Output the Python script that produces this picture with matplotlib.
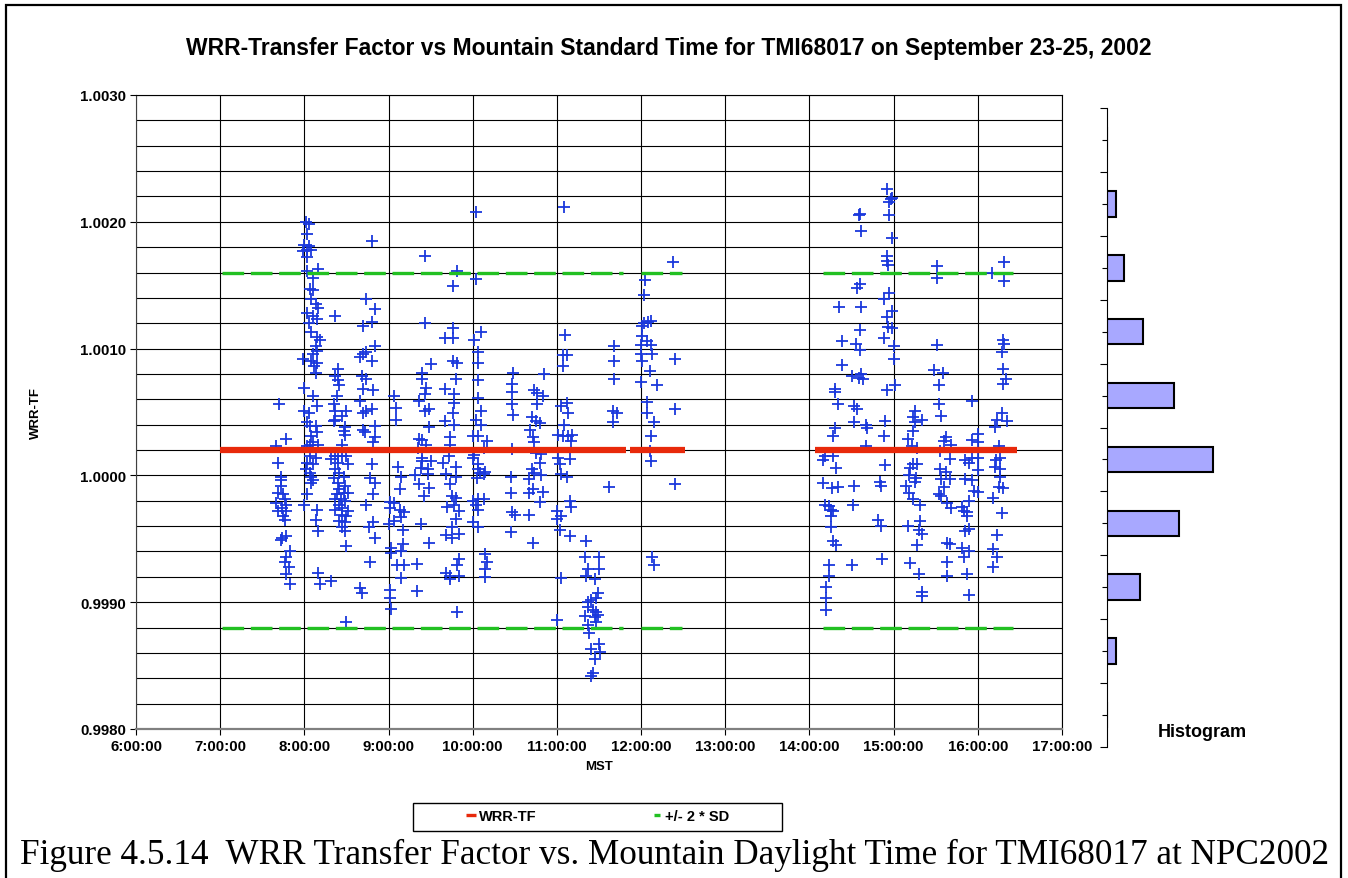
import matplotlib
matplotlib.use("Agg")
import matplotlib.pyplot as plt
from matplotlib.lines import Line2D
from matplotlib.patches import Rectangle
from matplotlib.ticker import MultipleLocator, FixedLocator, FuncFormatter

plt.rcParams["font.family"] = ["Liberation Sans", "DejaVu Sans"]

# ---- data --------------------------------------------------------------
am_times = [
    # 7:40 - 7:50
    "7:42", "7:47", "7:40", "7:41", "7:43", "7:43", "7:43", "7:41", "7:45", "7:46",
    "7:40", "7:47", "7:44", "7:41", "7:47", "7:45", "7:46", "7:44", "7:47", "7:43",
    "7:50", "7:47", "7:46", "7:49", "7:47", "7:50",
    # 8:00 - 8:10
    "8:01", "8:03", "8:02", "8:00", "8:03", "8:02", "8:05", "7:59", "8:02", "8:10",
    "8:02", "8:06", "8:04", "8:06", "8:05", "8:08", "8:10", "8:02", "8:06", "8:09",
    "8:03", "8:05", "8:09", "8:11", "8:08", "8:09", "8:06", "7:59", "8:05", "8:09",
    "8:07", "8:08", "8:00", "8:06", "8:09", "8:00", "8:03", "8:02", "8:04", "8:08",
    "8:09", "8:05", "8:06", "8:04", "8:10", "8:02", "8:04", "8:08", "8:02", "8:06",
    "8:01", "8:04", "8:05", "8:06", "8:05", "8:02", "8:00", "8:09", "8:08", "8:10",
    "8:10", "8:11", "8:19",
    # 8:20 - 8:31
    "8:22", "8:24", "8:22", "8:24", "8:25", "8:23", "8:21", "8:30", "8:22", "8:27",
    "8:22", "8:21", "8:29", "8:28", "8:29", "8:27", "8:22", "8:24", "8:27", "8:30",
    "8:19", "8:24", "8:31", "8:22", "8:25", "8:28", "8:21", "8:24", "8:29", "8:25",
    "8:23", "8:28", "8:31", "8:22", "8:26", "8:29", "8:25", "8:27", "8:22", "8:31",
    "8:27", "8:30", "8:25", "8:29", "8:27", "8:29", "8:30", "8:30",
    # 8:40 - 8:50
    "8:48", "8:44", "8:50", "8:42", "8:48", "8:50", "8:42", "8:44", "8:48", "8:40",
    "8:41", "8:44", "8:42", "8:49", "8:40", "8:42", "8:44", "8:48", "8:50", "8:42",
    "8:43", "8:50", "8:49", "8:48", "8:47", "8:50", "8:49", "8:44", "8:46", "8:49",
    "8:50", "8:47", "8:40", "8:41",
    # 9:00 - 10:30
    "10:02", "9:26", "9:49", "9:46", "10:02", "9:26", "9:46", "9:40", "9:46", "10:01",
    "10:06", "10:04", "10:04", "9:30", "9:46", "9:49", "9:24", "9:24", "9:48", "10:04",
    "10:29", "9:27", "9:26", "9:40", "9:47", "10:28", "10:28", "9:04", "9:22", "9:47",
    "10:04", "10:28", "9:26", "9:29", "9:05", "9:46", "10:06", "10:29", "9:05", "9:40",
    "9:47", "10:02", "10:06", "9:29", "9:22", "9:24", "9:44", "10:00", "10:04", "10:10",
    "9:27", "9:21", "9:44", "10:08", "10:28", "10:01", "9:24", "9:43", "10:00", "9:30",
    "9:39", "9:24", "9:07", "10:04", "9:23", "9:28", "9:48", "10:04", "10:09", "9:09",
    "9:19", "9:28", "9:41", "9:48", "10:03", "10:08", "10:05", "10:27", "9:22", "9:44",
    "9:08", "9:29", "9:25", "10:27", "9:45", "9:48", "9:01", "9:04", "10:00", "10:04",
    "10:08", "10:02", "9:42", "9:47", "9:01", "9:08", "9:11", "9:50", "10:04", "10:28",
    "10:30", "9:09", "9:48", "9:04", "9:00", "10:00", "9:23", "9:10", "9:45", "10:04",
    "9:41", "9:45", "9:50", "10:27", "9:29", "9:10", "9:02", "9:09", "9:02", "10:09",
    "9:50", "10:10", "9:06", "9:11", "9:20", "9:49", "10:09", "9:41", "9:44", "9:50",
    "9:09", "10:09", "9:44", "9:01", "9:20", "9:01", "9:02", "9:49",
    # 10:40 - 12:25
    "11:05", "12:23", "12:03", "12:02", "12:02", "12:05", "12:07", "12:01", "11:06", "11:41",
    "12:01", "12:04", "12:07", "12:00", "12:00", "12:08", "11:04", "11:07", "12:24", "11:41",
    "12:01", "11:04", "12:06", "10:51", "12:00", "11:41", "12:11", "10:44", "10:46", "10:50",
    "10:46", "11:07", "11:03", "11:08", "12:04", "12:24", "11:40", "11:43", "12:04", "11:40",
    "10:42", "10:45", "10:48", "12:09", "11:05", "10:41", "11:01", "11:04", "11:08", "11:11",
    "11:10", "12:07", "10:43", "10:44", "12:06", "10:49", "10:45", "11:01", "11:09", "12:07",
    "11:02", "10:48", "10:42", "10:44", "10:49", "11:03", "11:07", "10:40", "12:24", "11:37",
    "10:43", "10:50", "10:40", "10:48", "11:09", "11:10", "10:40", "11:00", "11:03", "11:00",
    "11:02", "11:09", "10:43", "11:21", "12:08", "12:09", "11:20", "11:30", "11:22", "11:30",
    "11:21", "11:03", "11:27", "11:29", "11:28", "11:22", "11:24", "11:22", "11:26", "11:28",
    "11:20", "11:27", "11:29", "11:00", "11:22", "11:28", "11:23", "11:30", "11:24", "11:31",
    "11:27", "11:26", "11:24",
]
am_tf = [
    # 7:40 - 7:50
    1.00056, 1.00029, 1.00023, 1.00010, 0.99999, 0.99996, 0.99992, 0.99986, 0.99985, 0.99981,
    0.99978, 0.99977, 0.99974, 0.99972, 0.99972, 0.99968, 0.99965, 0.99951, 0.99952, 0.99949,
    0.99940, 0.99936, 0.99932, 0.99928, 0.99922, 0.99914,
    # 8:00 - 8:10
    1.00200, 1.00198, 1.00190, 1.00182, 1.00181, 1.00178, 1.00178, 1.00177, 1.00172, 1.00163,
    1.00161, 1.00156, 1.00147, 1.00146, 1.00139, 1.00135, 1.00132, 1.00128, 1.00126, 1.00123,
    1.00120, 1.00113, 1.00109, 1.00107, 1.00102, 1.00098, 1.00096, 1.00092, 1.00090, 1.00089,
    1.00086, 1.00081, 1.00069, 1.00063, 1.00055, 1.00051, 1.00049, 1.00042, 1.00039, 1.00039,
    1.00034, 1.00031, 1.00026, 1.00024, 1.00024, 1.00023, 1.00015, 1.00014, 1.00010, 1.00009,
    1.00005, 1.00002, 0.99999, 0.99996, 0.99994, 0.99985, 0.99977, 0.99973, 0.99965, 0.99956,
    0.99923, 0.99914, 0.99917,
    # 8:20 - 8:31
    1.00126, 1.00084, 1.00078, 1.00075, 1.00071, 1.00063, 1.00056, 1.00051, 1.00051, 1.00047,
    1.00044, 1.00043, 1.00038, 1.00035, 1.00032, 1.00024, 1.00015, 1.00015, 1.00015, 1.00015,
    1.00013, 1.00010, 1.00009, 1.00005, 1.00002, 0.99999, 0.99998, 0.99994, 0.99992, 0.99989,
    0.99985, 0.99986, 0.99986, 0.99981, 0.99981, 0.99980, 0.99977, 0.99974, 0.99973, 0.99972,
    0.99969, 0.99968, 0.99964, 0.99963, 0.99959, 0.99956, 0.99944, 0.99884,
    # 8:40 - 8:50
    1.00185, 1.00139, 1.00131, 1.00118, 1.00121, 1.00102, 1.00096, 1.00097, 1.00090, 1.00093,
    1.00078, 1.00076, 1.00068, 1.00067, 1.00059, 1.00049, 1.00051, 1.00052, 1.00039, 1.00036,
    1.00034, 1.00030, 1.00026, 1.00009, 0.99998, 0.99994, 0.99985, 0.99977, 0.99959, 0.99963,
    0.99951, 0.99932, 0.99911, 0.99907,
    # 9:00 - 10:30
    1.00208, 1.00173, 1.00161, 1.00149, 1.00155, 1.00120, 1.00116, 1.00108, 1.00108, 1.00107,
    1.00113, 1.00097, 1.00089, 1.00088, 1.00090, 1.00089, 1.00081, 1.00076, 1.00076, 1.00075,
    1.00081, 1.00069, 1.00064, 1.00068, 1.00064, 1.00072, 1.00066, 1.00063, 1.00059, 1.00057,
    1.00061, 1.00056, 1.00051, 1.00052, 1.00053, 1.00049, 1.00051, 1.00048, 1.00044, 1.00043,
    1.00040, 1.00044, 1.00040, 1.00038, 1.00029, 1.00028, 1.00030, 1.00031, 1.00031, 1.00027,
    1.00024, 1.00022, 1.00024, 1.00022, 1.00021, 1.00016, 1.00014, 1.00015, 1.00014, 1.00011,
    1.00010, 1.00011, 1.00007, 1.00009, 1.00006, 1.00005, 1.00007, 1.00005, 1.00003, 0.99999,
    1.00000, 1.00001, 1.00001, 0.99999, 0.99998, 1.00001, 1.00002, 0.99999, 0.99993, 0.99993,
    0.99989, 0.99990, 0.99984, 0.99986, 0.99984, 0.99982, 0.99979, 0.99978, 0.99980, 0.99981,
    0.99981, 0.99977, 0.99975, 0.99977, 0.99974, 0.99973, 0.99971, 0.99972, 0.99973, 0.99971,
    0.99969, 0.99967, 0.99966, 0.99964, 0.99962, 0.99963, 0.99962, 0.99957, 0.99959, 0.99959,
    0.99953, 0.99951, 0.99954, 0.99955, 0.99947, 0.99946, 0.99943, 0.99940, 0.99939, 0.99938,
    0.99934, 0.99932, 0.99929, 0.99929, 0.99930, 0.99929, 0.99926, 0.99923, 0.99921, 0.99921,
    0.99919, 0.99920, 0.99918, 0.99910, 0.99909, 0.99903, 0.99895, 0.99892,
    # 10:40 - 12:25
    1.00212, 1.00168, 1.00154, 1.00142, 1.00120, 1.00121, 1.00122, 1.00118, 1.00111, 1.00102,
    1.00110, 1.00106, 1.00103, 1.00103, 1.00096, 1.00096, 1.00095, 1.00095, 1.00092, 1.00090,
    1.00090, 1.00086, 1.00082, 1.00080, 1.00074, 1.00076, 1.00071, 1.00067, 1.00065, 1.00063,
    1.00056, 1.00057, 1.00055, 1.00049, 1.00058, 1.00052, 1.00051, 1.00049, 1.00049, 1.00042,
    1.00046, 1.00043, 1.00041, 1.00042, 1.00040, 1.00036, 1.00032, 1.00031, 1.00031, 1.00032,
    1.00027, 1.00031, 1.00030, 1.00026, 1.00019, 1.00017, 1.00018, 1.00014, 1.00013, 1.00011,
    1.00009, 1.00010, 1.00005, 1.00002, 1.00000, 1.00001, 0.99999, 0.99997, 0.99993, 0.99991,
    0.99989, 0.99987, 0.99986, 0.99979, 0.99980, 0.99975, 0.99969, 0.99972, 0.99968, 0.99966,
    0.99957, 0.99952, 0.99947, 0.99948, 0.99936, 0.99929, 0.99936, 0.99936, 0.99926, 0.99926,
    0.99921, 0.99919, 0.99918, 0.99907, 0.99903, 0.99900, 0.99902, 0.99896, 0.99894, 0.99892,
    0.99889, 0.99888, 0.99890, 0.99886, 0.99882, 0.99884, 0.99876, 0.99867, 0.99863, 0.99861,
    0.99855, 0.99844, 0.99842,
]

pm_times = [
    # 14:10 - 15:30
    "14:55", "14:59", "14:57", "14:58", "14:36", "14:35", "14:57", "14:37", "14:59", "14:55",
    "14:55", "14:56", "15:31", "15:31", "14:36", "14:34", "14:57", "14:53", "14:21", "14:37",
    "14:59", "14:55", "14:56", "14:59", "14:36", "14:23", "14:53", "14:33", "14:36", "15:00",
    "15:31", "15:00", "14:23", "14:30", "14:35", "14:37", "14:38", "15:29", "15:32", "15:01",
    "14:55", "14:18", "14:18", "14:20", "14:32", "14:34", "15:32", "15:15", "15:20", "15:14",
    "14:32", "14:40", "14:41", "14:54", "15:15", "14:18", "14:17", "14:53", "15:14", "15:10",
    "14:40", "15:13", "15:17", "14:11", "14:17", "14:10", "14:54", "14:19", "15:14", "15:17",
    "15:12", "15:11", "15:16", "15:15", "14:10", "14:16", "14:20", "14:32", "14:50", "14:51",
    "15:09", "15:11", "14:11", "14:14", "14:31", "15:14", "15:19", "14:15", "14:17", "14:15",
    "14:49", "14:51", "15:10", "15:19", "15:18", "15:20", "14:15", "14:17", "14:19", "15:17",
    "14:52", "14:14", "14:30", "15:12", "14:14", "15:18", "14:12", "15:20", "15:20", "14:12",
    "14:12",
    # 15:30 - 16:25
    "16:19", "16:10", "16:19", "16:18", "16:19", "16:17", "16:18", "16:20", "16:18", "15:35",
    "15:56", "15:34", "16:17", "16:14", "16:21", "16:12", "15:37", "16:00", "15:36", "15:56",
    "16:00", "15:41", "16:15", "15:33", "15:40", "15:51", "15:56", "16:00", "16:13", "16:16",
    "15:54", "16:16", "15:33", "15:37", "16:00", "16:12", "15:34", "15:40", "15:51", "15:56",
    "16:16", "16:15", "16:18", "15:36", "15:32", "15:34", "15:57", "16:00", "15:54", "16:11",
    "15:38", "15:41", "15:49", "15:52", "15:50", "16:17", "15:52", "15:54", "15:51", "16:14",
    "15:38", "15:40", "15:49", "15:54", "16:11", "15:50", "16:14", "15:38", "16:11", "15:52",
    "15:38", "15:54",
]
pm_tf = [
    # 14:10 - 15:30
    1.00226, 1.00219, 1.00216, 1.00218, 1.00206, 1.00205, 1.00205, 1.00193, 1.00187, 1.00173,
    1.00169, 1.00166, 1.00165, 1.00156, 1.00151, 1.00148, 1.00144, 1.00139, 1.00133, 1.00133,
    1.00130, 1.00125, 1.00117, 1.00116, 1.00115, 1.00106, 1.00108, 1.00104, 1.00099, 1.00102,
    1.00103, 1.00092, 1.00087, 1.00078, 1.00077, 1.00080, 1.00076, 1.00083, 1.00071, 1.00071,
    1.00067, 1.00066, 1.00068, 1.00056, 1.00055, 1.00052, 1.00056, 1.00051, 1.00044, 1.00046,
    1.00042, 1.00040, 1.00037, 1.00043, 1.00042, 1.00037, 1.00031, 1.00031, 1.00035, 1.00029,
    1.00023, 1.00023, 1.00022, 1.00015, 1.00015, 1.00012, 1.00008, 1.00006, 1.00009, 1.00009,
    1.00006, 1.00000, 0.99998, 0.99995, 0.99994, 0.99990, 0.99991, 0.99992, 0.99995, 0.99992,
    0.99992, 0.99986, 0.99977, 0.99976, 0.99977, 0.99981, 0.99977, 0.99973, 0.99972, 0.99968,
    0.99965, 0.99960, 0.99960, 0.99964, 0.99957, 0.99954, 0.99959, 0.99948, 0.99945, 0.99945,
    0.99934, 0.99929, 0.99929, 0.99931, 0.99921, 0.99922, 0.99912, 0.99908, 0.99905, 0.99903,
    0.99894,
    # 15:30 - 16:25
    1.00168, 1.00160, 1.00153, 1.00107, 1.00104, 1.00097, 1.00084, 1.00076, 1.00072, 1.00081,
    1.00059, 1.00047, 1.00049, 1.00044, 1.00043, 1.00038, 1.00030, 1.00033, 1.00027, 1.00028,
    1.00026, 1.00024, 1.00023, 1.00019, 1.00013, 1.00012, 1.00014, 1.00014, 1.00012, 1.00014,
    1.00010, 1.00005, 1.00005, 1.00003, 1.00004, 1.00007, 0.99997, 0.99997, 0.99997, 0.99996,
    0.99999, 0.99991, 0.99990, 0.99991, 0.99985, 0.99984, 0.99988, 0.99987, 0.99980, 0.99982,
    0.99978, 0.99974, 0.99975, 0.99971, 0.99972, 0.99970, 0.99968, 0.99958, 0.99956, 0.99953,
    0.99947, 0.99946, 0.99943, 0.99940, 0.99942, 0.99936, 0.99936, 0.99932, 0.99928, 0.99922,
    0.99921, 0.99906,
]

mean_tf = 1.0002
sd_upper = 1.0016
sd_lower = 0.9988
mean_runs = [("7:00", "11:49"), ("11:52", "12:31"), ("14:04", "16:28")]
band_runs = [("7:01", "11:47"), ("12:00", "12:29"), ("14:10", "16:25")]

hist_counts = [0, 14, 26, 55, 101, 160, 109, 50, 13, 0]

hour_ticks = list(range(6, 18))
tf_ticks = [0.9980, 0.9990, 1.0000, 1.0010, 1.0020, 1.0030]

title = "WRR-Transfer Factor vs Mountain Standard Time for TMI68017 on September 23-25, 2002"
caption = "Figure 4.5.14  WRR Transfer Factor vs. Mountain Daylight Time for TMI68017 at NPC2002"

RED = "#e8290b"
GREEN = "#22c022"
BLUE = "#1a38dc"


def hours(stamp):
    h, m = stamp.split(":")
    return int(h) + int(m) / 60


W, H = 1348, 879


def box(x0, y0, x1, y1):
    return [x0 / W, 1 - y1 / H, (x1 - x0) / W, (y1 - y0) / H]


fig = plt.figure(figsize=(W / 100, H / 100), dpi=100)

# ---- main scatter panel -------------------------------------------------
ax = fig.add_axes(box(136, 96, 1062, 730))
ax.set_xlim(6, 17)
ax.set_ylim(0.9980, 1.0030)
ax.xaxis.set_major_locator(FixedLocator(hour_ticks))
ax.xaxis.set_major_formatter(FuncFormatter(lambda v, p: f"{int(round(v))}:00:00"))
ax.yaxis.set_major_locator(FixedLocator(tf_ticks))
ax.yaxis.set_minor_locator(MultipleLocator(0.0002))
ax.yaxis.set_major_formatter(FuncFormatter(lambda v, p: f"{v:.4f}"))
ax.grid(True, axis="x", which="major", color="black", lw=0.8)
ax.grid(True, axis="y", which="both", color="black", lw=0.8)
ax.set_axisbelow(True)
ax.tick_params(axis="both", which="major", direction="out", length=4, width=0.8,
               labelsize=10.8, pad=3)
ax.tick_params(axis="y", which="minor", length=0)
for lab in ax.get_xticklabels() + ax.get_yticklabels():
    lab.set_fontweight("bold")
for side in ("top", "right"):
    ax.spines[side].set_color("black")
    ax.spines[side].set_linewidth(0.8)
ax.spines["left"].set_color("#404040")
ax.spines["bottom"].set_color("#808080")
ax.spines["bottom"].set_linewidth(1.6)

ax.plot([hours(t) for t in am_times], am_tf, "+", color=BLUE, ms=8, mew=1.3, zorder=3)
ax.plot([hours(t) for t in pm_times], pm_tf, "+", color=BLUE, ms=8, mew=1.3, zorder=3)

for t0, t1 in mean_runs:
    ax.plot([hours(t0), hours(t1)], [mean_tf, mean_tf], color=RED, lw=4.5,
            solid_capstyle="butt", zorder=4)
for t0, t1 in band_runs:
    for level in (sd_upper, sd_lower):
        ax.plot([hours(t0), hours(t1)], [level, level], color=GREEN, lw=2.4,
                dashes=(6.5, 2.0), dash_capstyle="butt", zorder=4)

ax.set_ylabel("WRR-TF", fontsize=9.5, fontweight="bold", va="center")
ax.yaxis.set_label_coords((36 - 136) / 926, 0.5)
ax.set_xlabel("MST", fontsize=9.5, fontweight="bold", va="center")
ax.xaxis.set_label_coords(0.5, -(767 - 730) / 634)

# ---- histogram panel ----------------------------------------------------
hx = fig.add_axes(box(1107, 109, 1300, 748))
hx.barh(range(len(hist_counts)), hist_counts, height=0.4, color="#a8a8ff",
        edgecolor="black", lw=1.5)
hx.set_ylim(len(hist_counts) - 0.5, -0.5)
hx.set_xlim(0, 291)
hx.yaxis.set_major_locator(FixedLocator([i - 0.5 for i in range(len(hist_counts) + 1)]))
hx.yaxis.set_minor_locator(FixedLocator(range(len(hist_counts))))
hx.tick_params(axis="y", which="major", length=5, width=0.8, labelleft=False)
hx.tick_params(axis="y", which="minor", length=3.5, width=0.8)
hx.set_xticks([])
for side in ("top", "right", "bottom"):
    hx.spines[side].set_visible(False)
hx.spines["left"].set_linewidth(0.8)
fig.text(1202 / W, 1 - 733 / H, "Histogram", ha="center", va="center",
         fontsize=13, fontweight="bold")

# ---- title, legend, caption, frame --------------------------------------
fig.text(669 / W, 1 - 48 / H, title, ha="center", va="center",
         fontsize=16.5, fontweight="bold")

fig.patches.append(Rectangle((413 / W, 1 - 832 / H), 369 / W, 28 / H,
                             transform=fig.transFigure, fill=False,
                             edgecolor="black", lw=1))
handles = [Line2D([], [], color=RED, marker="_", ms=7.2, mew=2.4, ls="none"),
           Line2D([], [], color=GREEN, marker="_", ms=4.5, mew=2.4, ls="none")]
fig.legend(handles, ["WRR-TF", "+/- 2 * SD"], loc="center",
           bbox_to_anchor=(598 / W, 1 - 817 / H), ncol=2, frameon=False,
           handlelength=0.7, handletextpad=0.2, columnspacing=7.9,
           borderpad=0.2, prop={"weight": "bold", "size": 10.5})

fig.text(675 / W, 1 - 855 / H, caption, ha="center", va="center",
         fontsize=25.3, family=["Liberation Serif", "DejaVu Serif"])

fig.patches.append(Rectangle((6 / W, -0.05), 1335 / W, 1.05 - 6 / H,
                             transform=fig.transFigure, fill=False,
                             edgecolor="black", lw=1.6))

fig.savefig("out.png", dpi=100)
